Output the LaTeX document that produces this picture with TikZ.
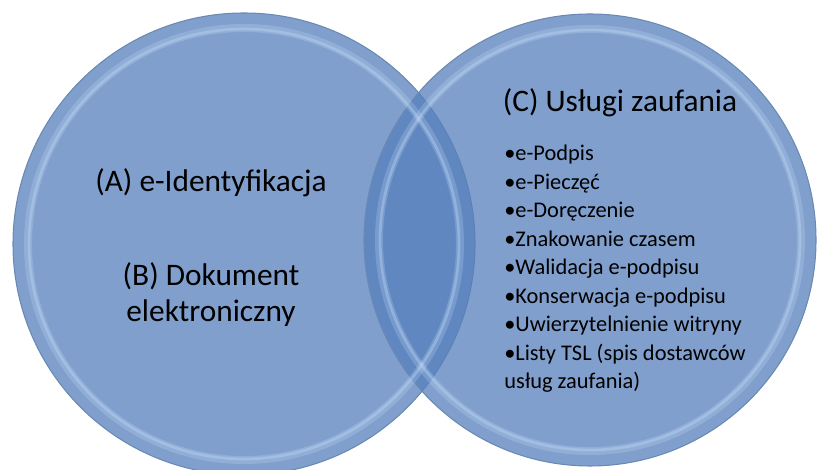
\documentclass[tikz,border=0pt]{standalone}
\usepackage{fontspec}
\setmainfont{Carlito}
\usetikzlibrary{positioning}
\definecolor{vnfill}{HTML}{5680BB}
\definecolor{vnedge}{HTML}{6A89B3}
\definecolor{vnrim}{HTML}{CFE6FF}

\begin{document}
\begin{tikzpicture}[x=0.75pt, y=0.75pt,
      disc/.style={fill=vnfill, fill opacity=0.75, draw=vnedge, line width=0.8pt},
      rim/.style={draw=vnrim, draw opacity=0.22, line width=6pt},
      rimcore/.style={draw=vnrim, draw opacity=0.3, line width=2pt},
      head/.style={font=\fontsize{23.5}{27}\selectfont, align=center, inner sep=0pt},
      items/.style={font=\fontsize{16.8}{21.4}\selectfont, align=left, anchor=west, inner sep=0pt}]
      \clip (0,0) rectangle (817,470);
      \fill[white] (0,0) rectangle (817,470);
      \coordinate (lc) at (244,226);
      \coordinate (rc) at (590,230);
      % the two sets
      \draw[disc] (lc) circle (231);
      \draw[disc] (rc) circle (226);
      \draw[rim] (lc) circle (216); \draw[rimcore] (lc) circle (215);
      \draw[rim] (rc) circle (211); \draw[rimcore] (rc) circle (210);
      % labels
      \node[head] (ident) at (211,287) {(A) e-Identyfikacja};
      \node[head] (doc) at (211,175) {(B) Dokument\\elektroniczny};
      \node[head] (trust) at (620,367) {(C) Usługi zaufania};
      \node[items] (list) at (504,201) {•e-Podpis\\•e-Pieczęć\\•e-Doręczenie\\
        •Znakowanie czasem\\•Walidacja e-podpisu\\•Konserwacja e-podpisu\\
        •Uwierzytelnienie witryny\\•Listy TSL (spis dostawców\\usług zaufania)};
    \end{tikzpicture}
\end{document}
